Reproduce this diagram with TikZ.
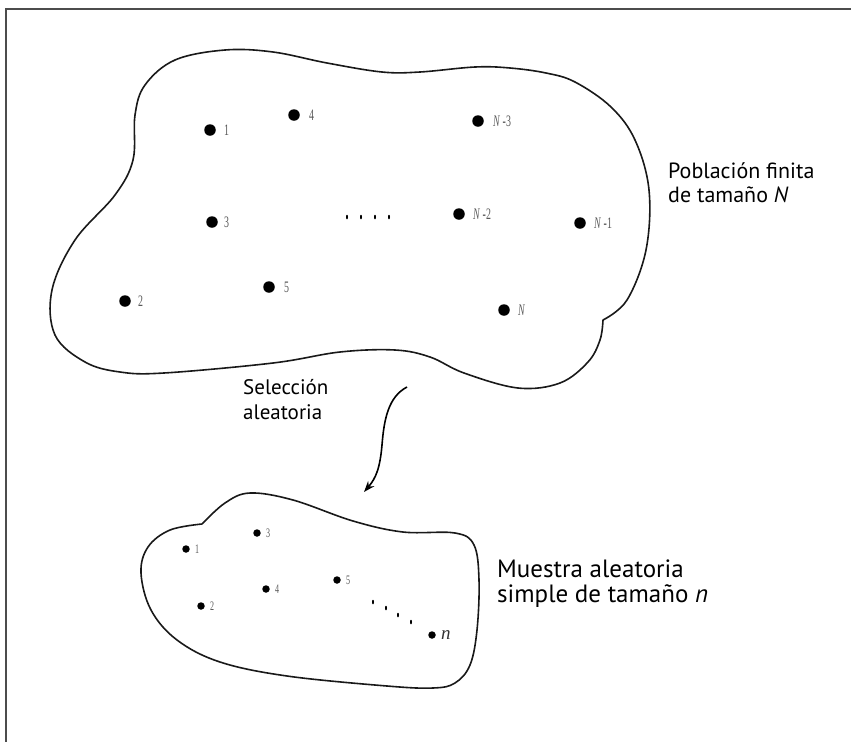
\documentclass[tikz,border=0pt]{standalone}
\usepackage{fontspec}
\newfontfamily\lblfont{Liberation Serif}
\newfontfamily\txtfont{PT Sans}
\usetikzlibrary{arrows.meta,shapes.geometric}
\newcommand{\cond}[1]{\scalebox{0.62}[1]{#1}}
\begin{document}
\begin{tikzpicture}[x=1pt,y=-1pt,
  blob/.style={draw=black!90, line width=1.6pt, line join=round},
  bigdot/.style={circle, fill=black, inner sep=0pt, minimum size=11.5pt},
  smalldot/.style={circle, fill=black, inner sep=0pt, minimum size=7.5pt},
  tick/.style={ellipse, fill=black, inner sep=0pt, minimum width=2pt, minimum height=4.5pt},
  biglbl/.style={font=\lblfont\fontsize{16}{16}\selectfont, text=black!65, inner sep=0pt, anchor=west},
  smalllbl/.style={font=\lblfont\fontsize{13}{13}\selectfont, text=black!65, inner sep=0pt, anchor=west},
  caption/.style={text=black, align=left, inner sep=0pt, anchor=base west},
  frame/.style={draw=black!70, line width=2pt}
]
\useasboundingbox (0,0) rectangle (851,742);
% frame
\draw[frame] (851,9) -- (6,9) -- (6,742);

% big population blob
\draw[blob] plot[smooth, tension=0.6] coordinates {
 (603,320) (627,300) (646,250) (649,190) (635,140) (611,107) (575,82) (546,73) (510,68) (475,67)
 (420,72) (382,72) (327,63) (273,52) (225,50) (175,60) (145,85) (135,115) (133,160)
 (115,195) (75,240) (52,290) (55,335) (85,362) (120,372) (164,373) (273,363) (340,352) (395,350)
 (430,357) (464,373) (518,388) (560,383) (588,362) (600,340) (603,320)};

% big dots
\node[bigdot] (d1) at (210,130) {};
\node[bigdot] (d4) at (294,115) {};
\node[bigdot] (dN3) at (478,121) {};
\node[bigdot] (d3) at (212,222) {};
\node[bigdot] (dN2) at (459,214) {};
\node[bigdot] (dN1) at (580,223) {};
\node[bigdot] (d2) at (125,301) {};
\node[bigdot] (d5) at (269,287) {};
\node[bigdot] (dN) at (504,310) {};
\node[biglbl] (l1) at ([xshift=8pt]d1.east) {\cond{1}};
\node[biglbl] (l4) at ([xshift=9pt]d4.east) {\cond{4}};
\node[biglbl] (lN3) at ([xshift=9pt]dN3.east) {\cond{\textit{N} \textbf{-}3}};
\node[biglbl] (l3) at ([xshift=6pt]d3.east) {\cond{3}};
\node[biglbl] (lN2) at ([xshift=8pt]dN2.east) {\cond{\textit{N} \textbf{-}2}};
\node[biglbl] (lN1) at ([xshift=8pt]dN1.east) {\cond{\textit{N} \textbf{-}1}};
\node[biglbl] (l2) at ([xshift=7pt]d2.east) {\cond{2}};
\node[biglbl] (l5) at ([xshift=9pt]d5.east) {\cond{5}};
\node[biglbl] (lN) at ([xshift=8pt]dN.east) {\cond{\textit{N}}};
\node[tick] (t1) at (347,217) {};
\node[tick] (t2) at (361,217) {};
\node[tick] (t3) at (375,217) {};
\node[tick] (t4) at (389,217) {};

\node[caption, font=\txtfont\fontsize{22}{24}\selectfont] (pob) at (668,202) {Población finita\\de tamaño \textit{N}};

% selection arrow
\coordinate (aS) at (407,387);
\coordinate (aE) at (364,492);
\draw[line width=1.6pt, -{Stealth[length=11pt,width=8pt]}] (aS) .. controls (388,397) and (384,420) .. (382,445)
  .. controls (380,468) and (376,478) .. (aE);
\node[caption, font=\txtfont\fontsize{21}{25}\selectfont] (sel) at (243,419) {Selección\\aleatoria};

% small sample blob
\draw[blob] plot[smooth, tension=0.6] coordinates {
 (202,524) (225,503) (250,493) (293,500) (353,521) (403,532) (455,533) (474,545)
 (479,580) (477,630) (470,665) (455,683) (433,688) (387,686) (287,676) (220,662)
 (177,640) (151,610) (141,573) (148,547) (170,530) (202,524)};

\node[smalldot] (s1) at (186,549) {};
\node[smalldot] (s3) at (257,533) {};
\node[smalldot] (s4) at (266,589) {};
\node[smalldot] (s2) at (201,606) {};
\node[smalldot] (s5) at (337,580) {};
\node[smalldot] (sn) at (432,635) {};
\node[smalllbl] (m1) at ([xshift=5pt]s1.east) {\cond{1}};
\node[smalllbl] (m3) at ([xshift=5pt]s3.east) {\cond{3}};
\node[smalllbl] (m4) at ([xshift=5pt]s4.east) {\cond{4}};
\node[smalllbl] (m2) at ([xshift=5pt]s2.east) {\cond{2}};
\node[smalllbl] (m5) at ([xshift=5pt]s5.east) {\cond{5}};
\node[smalllbl, font=\lblfont\fontsize{19}{19}\selectfont, text=black!80] (mn) at ([xshift=5pt]sn.east) {\textit{n}};
\node[tick] (u1) at (373,602) {};
\node[tick] (u2) at (386,608) {};
\node[tick] (u3) at (398,615) {};
\node[tick] (u4) at (411,622) {};

\node[caption, font=\txtfont\fontsize{25}{25}\selectfont] (mue) at (497,602) {Muestra aleatoria\\simple de tamaño \textit{n}};
\end{tikzpicture}
\end{document}
